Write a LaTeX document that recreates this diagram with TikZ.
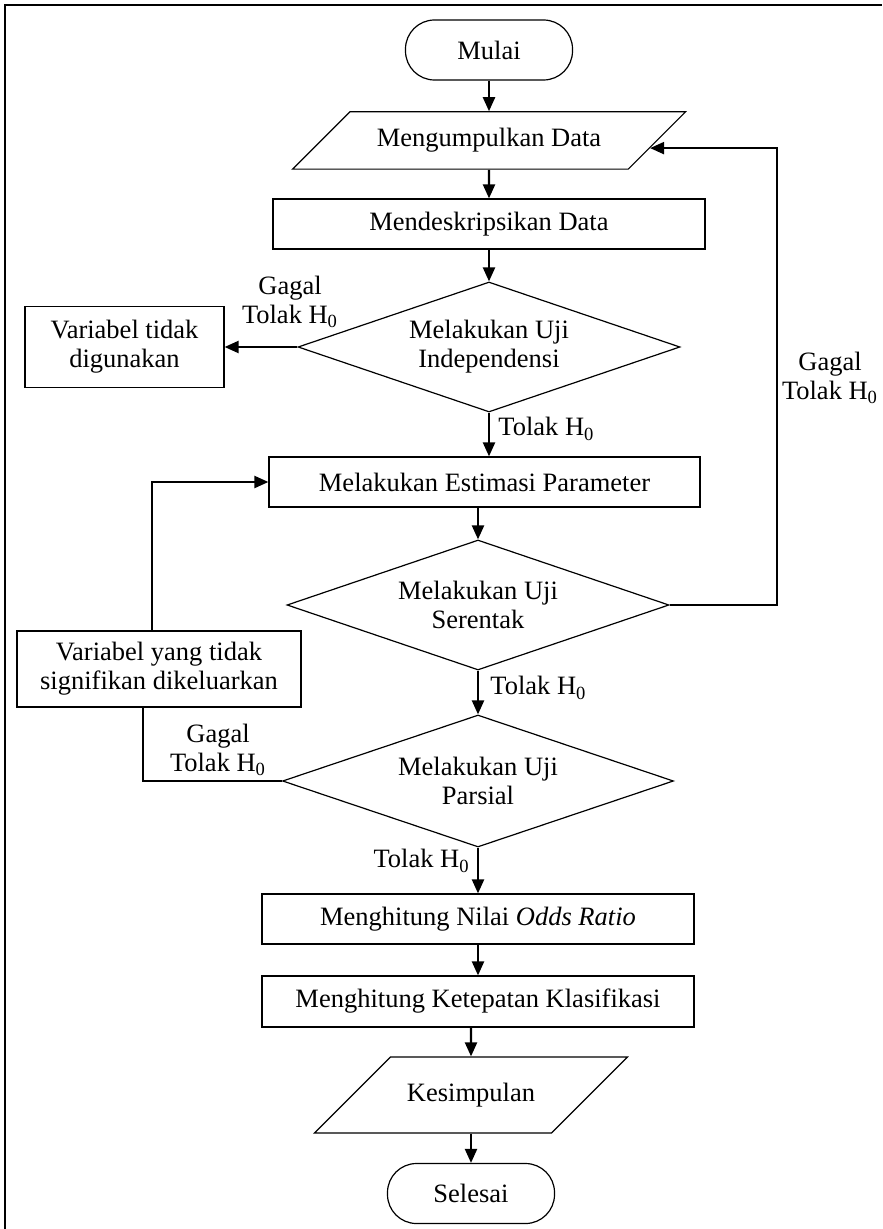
\documentclass[tikz,border=0pt]{standalone}
\usepackage{fontspec}
\setmainfont{Liberation Serif}
\usetikzlibrary{shapes.geometric,arrows.meta,calc}

\begin{document}
\begin{tikzpicture}[x=0.5pt,y=-0.5pt,
    font=\fontsize{13.25}{14.5}\selectfont,
    outline/.style={draw,line width=0.6pt},
    terminal/.style={outline,rectangle,rounded corners=14.5pt,minimum width=83.5pt,minimum height=30pt},
    process/.style={outline,rectangle,minimum width=216pt,minimum height=25pt,align=center},
    sidebox/.style={outline,rectangle,align=center,inner sep=2pt},
    io/.style={outline,trapezium,trapezium left angle=45,trapezium right angle=135,trapezium stretches body,inner ysep=8.3pt},
    decision/.style={outline,diamond,aspect=2.9,inner sep=0pt,align=center,minimum width=191pt,minimum height=65pt},
    flow/.style={line width=1.1pt,-{Triangle[length=7pt,width=6pt]}},
    flowline/.style={line width=1.1pt},
    branch/.style={align=center,inner sep=0pt}]
    \useasboundingbox (0,0) rectangle (882,1229);
    \draw[line width=1.2pt] (5,1229) -- (5,5) -- (882,5);

    \node[terminal] (start) at (489,50) {Mulai};
    \node[io,minimum width=196.5pt] (collect) at (489,140.5) {Mengumpulkan Data};
    \node[process] (describe) at (489,224) {Mendeskripsikan Data};
    \node[decision] (indep) at (489,347) {Melakukan Uji\\Independensi};
    \node[sidebox,minimum width=99.5pt,minimum height=40.5pt] (unused) at (124.5,347) {Variabel tidak\\digunakan};
    \node[process,minimum width=215.5pt] (estimate) at (484.5,482) {Melakukan Estimasi Parameter};
    \node[decision] (simult) at (478,605) {Melakukan Uji\\Serentak};
    \node[sidebox,minimum width=142pt,minimum height=38pt] (drop) at (159,669) {Variabel yang tidak\\signifikan dikeluarkan};
    \node[decision,minimum width=195.5pt,minimum height=66pt] (partial) at (478,781) {Melakukan Uji\\Parsial};
    \node[process] (odds) at (478,919) {Menghitung Nilai \textit{Odds Ratio}};
    \node[process,minimum height=25.5pt] (accuracy) at (478,1001.5) {Menghitung Ketepatan Klasifikasi};
    \node[io,minimum width=156.5pt,inner ysep=13pt] (conclude) at (471,1095) {Kesimpulan};
    \node[terminal] (stop) at (471,1193.5) {Selesai};

    \draw[flow] (start) -- (start |- collect.north);
    \draw[flow] (collect) -- (collect |- describe.north);
    \draw[flow] (describe) -- (indep);
    \draw[flow] (indep) -- (unused);
    \draw[flow] (indep) -- (indep |- estimate.north);
    \draw[flow] (simult |- estimate.south) -- (simult);
    \draw[flow] (simult) -- (partial);
    \draw[flow] (partial) -- (odds);
    \draw[flow] (odds) -- (accuracy);
    \draw[flow] (conclude |- accuracy.south) -- (conclude);
    \draw[flow] (stop |- conclude.south) -- (stop);

    % loops back
    \coordinate (rightx) at (777,0);
    \coordinate (collectR) at ($(collect.top right corner)!0.63!(collect.bottom right corner)$);
    \draw[flow] (simult.east) -- (simult.east -| rightx) -- (collectR -| rightx) -- (collectR);
    \draw[flowline] (partial.west) -| ([xshift=-8pt]drop.south);
    \draw[flow] ([xshift=-3.5pt]drop.north) |- (estimate.west);

    \node[branch] (gagal1) at (290,302) {Gagal\\Tolak H\textsubscript{0}};
    \node[branch,anchor=west] (tolak1) at (498,429) {Tolak H\textsubscript{0}};
    \node[branch] (gagal2) at (830,378) {Gagal\\Tolak H\textsubscript{0}};
    \node[branch,anchor=west] (tolak2) at (490,688) {Tolak H\textsubscript{0}};
    \node[branch] (gagal3) at (218,750) {Gagal\\Tolak H\textsubscript{0}};
    \node[branch,anchor=east] (tolak3) at (470,861) {Tolak H\textsubscript{0}};
\end{tikzpicture}
\end{document}
